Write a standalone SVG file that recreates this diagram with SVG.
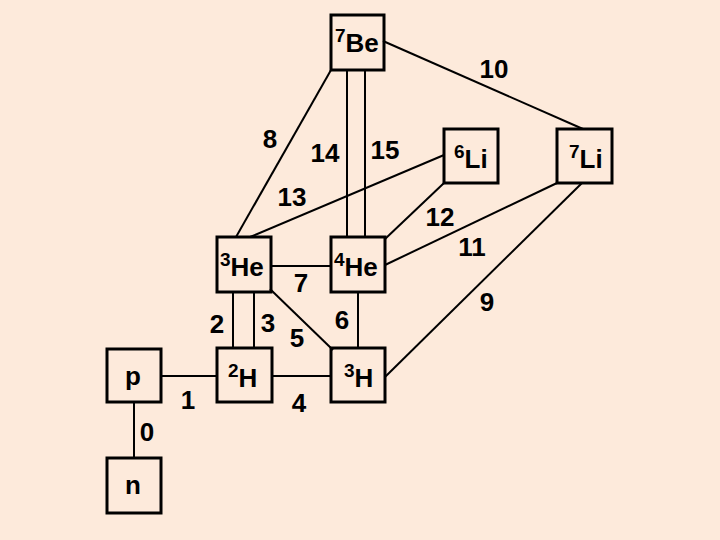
<svg xmlns="http://www.w3.org/2000/svg" width="720" height="540" viewBox="0 0 720 540">
<style>
.bg{fill:#FDEADB}
.box{fill:none;stroke:#000;stroke-width:3}
.ln{stroke:#000;stroke-width:2;fill:none}
.lab{font-family:"Liberation Sans",Arial,sans-serif;font-weight:bold;font-size:26px;fill:#000;text-anchor:middle}
.nt{font-family:"Liberation Sans",Arial,sans-serif;font-weight:bold;font-size:26px;fill:#000}
.sup{font-size:19px}
</style>
<rect class="bg" x="0" y="0" width="720" height="540"/>
<g id="connectors">
<line class="ln" x1="134" y1="402" x2="134" y2="458"/>
<line class="ln" x1="161" y1="376" x2="217" y2="376"/>
<line class="ln" x1="233" y1="292" x2="233" y2="348"/>
<line class="ln" x1="254" y1="292" x2="254" y2="348"/>
<line class="ln" x1="272" y1="376" x2="331" y2="376"/>
<line class="ln" x1="270" y1="289" x2="333" y2="350"/>
<line class="ln" x1="358" y1="292" x2="358" y2="348"/>
<line class="ln" x1="271" y1="266" x2="331" y2="266"/>
<line class="ln" x1="331" y1="70" x2="236" y2="237"/>
<line class="ln" x1="582" y1="183" x2="385" y2="377"/>
<line class="ln" x1="383" y1="41" x2="583" y2="129"/>
<line class="ln" x1="557" y1="183" x2="385" y2="265"/>
<line class="ln" x1="444" y1="183" x2="385" y2="239"/>
<line class="ln" x1="250" y1="237" x2="444" y2="155"/>
<line class="ln" x1="347" y1="70" x2="347" y2="237"/>
<line class="ln" x1="365" y1="70" x2="365" y2="237"/>
</g>
<g id="edge-labels">
<text class="lab" x="494" y="78">10</text>
<text class="lab" x="270" y="148">8</text>
<text class="lab" x="325" y="162">14</text>
<text class="lab" x="385" y="159">15</text>
<text class="lab" x="292" y="206">13</text>
<text class="lab" x="440" y="226">12</text>
<text class="lab" x="472" y="256">11</text>
<text class="lab" x="487" y="311">9</text>
<text class="lab" x="301" y="292">7</text>
<text class="lab" x="342" y="329">6</text>
<text class="lab" x="217" y="333">2</text>
<text class="lab" x="268" y="332">3</text>
<text class="lab" x="297" y="347">5</text>
<text class="lab" x="188" y="409">1</text>
<text class="lab" x="299" y="412">4</text>
<text class="lab" x="147" y="441">0</text>
</g>
<g id="n-Be7">
<rect class="box" x="331" y="15" width="53" height="55"/>
<text class="nt" x="335" y="52"><tspan class="sup" dy="-10">7</tspan><tspan dy="10">Be</tspan></text>
</g>
<g id="n-Li6">
<rect class="box" x="444" y="129" width="54" height="54"/>
<text class="nt" x="454" y="168"><tspan class="sup" dy="-10">6</tspan><tspan dy="10">Li</tspan></text>
</g>
<g id="n-Li7">
<rect class="box" x="557" y="129" width="55" height="54"/>
<text class="nt" x="569" y="168"><tspan class="sup" dy="-10">7</tspan><tspan dy="10">Li</tspan></text>
</g>
<g id="n-He3">
<rect class="box" x="217" y="237" width="54" height="55"/>
<text class="nt" x="220" y="276"><tspan class="sup" dy="-10">3</tspan><tspan dy="10">He</tspan></text>
</g>
<g id="n-He4">
<rect class="box" x="331" y="237" width="54" height="55"/>
<text class="nt" x="334" y="276"><tspan class="sup" dy="-10">4</tspan><tspan dy="10">He</tspan></text>
</g>
<g id="n-H2">
<rect class="box" x="217" y="348" width="55" height="54"/>
<text class="nt" x="228" y="387"><tspan class="sup" dy="-10">2</tspan><tspan dy="10">H</tspan></text>
</g>
<g id="n-H3">
<rect class="box" x="331" y="348" width="54" height="54"/>
<text class="nt" x="344" y="387"><tspan class="sup" dy="-10">3</tspan><tspan dy="10">H</tspan></text>
</g>
<g id="n-p">
<rect class="box" x="107" y="349" width="54" height="53"/>
<text class="lab" x="133" y="385">p</text>
</g>
<g id="n-n">
<rect class="box" x="107" y="458" width="54" height="55"/>
<text class="lab" x="133" y="494">n</text>
</g>
</svg>
